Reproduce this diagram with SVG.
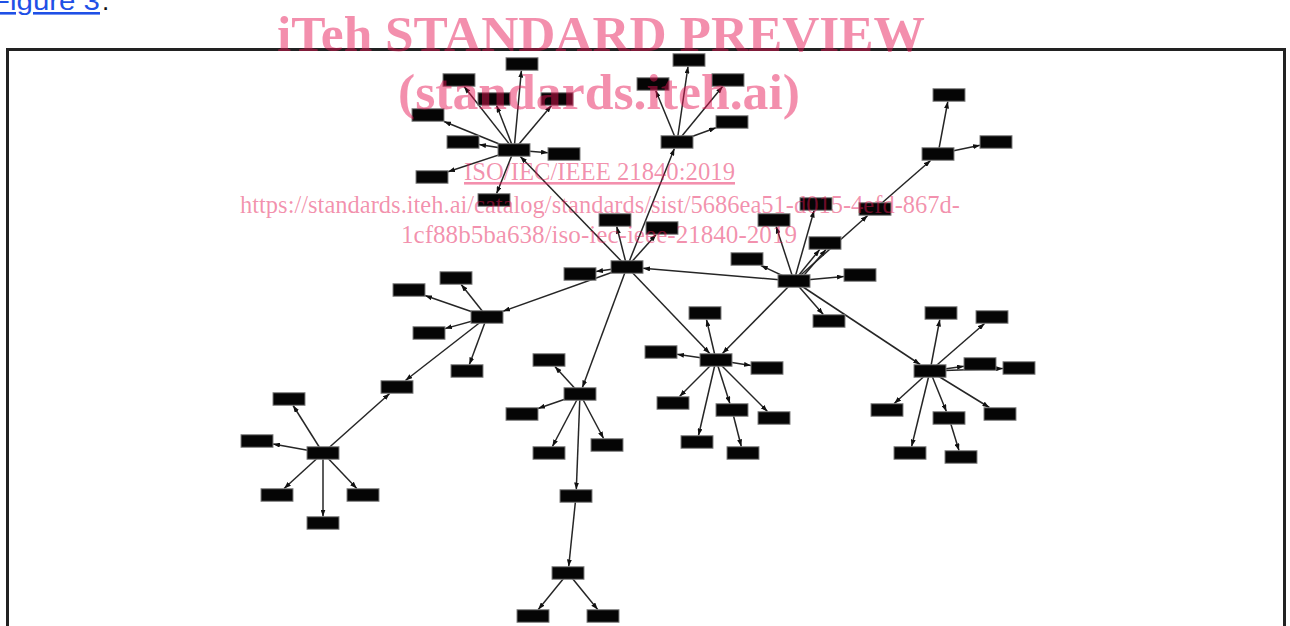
<svg xmlns="http://www.w3.org/2000/svg" width="1290" height="626" viewBox="0 0 1290 626">
  <style>
    .n { fill: #050505; stroke: #808080; stroke-width: 1; }
    .e line { stroke: #262626; stroke-width: 1.5; marker-end: url(#arr); }
    .wm { font-family: "Liberation Serif", "Times New Roman", serif; fill: #e51553; fill-opacity: 0.48; text-anchor: middle; }
    .wmb { font-weight: bold; font-size: 51px; }
    .wms { font-size: 26px; }
  </style>
  <defs>
    <marker id="arr" viewBox="0 0 7 5" refX="7" refY="2.5" markerWidth="7" markerHeight="5" orient="auto" markerUnits="userSpaceOnUse">
      <path d="M0,0 L7,2.5 L0,5 z" fill="#111"/>
    </marker>
    <rect id="box" x="-16" y="-6.25" width="32" height="12.5"/>
  </defs>

  <rect width="1290" height="626" fill="#ffffff"/>

  <!-- caption reference above the frame -->
  <text x="-8" y="10" font-family="'Liberation Sans', Arial, sans-serif" font-size="26" fill="#1f50e6" text-decoration="underline" textLength="108" lengthAdjust="spacingAndGlyphs">Figure 3</text>
  <text x="102" y="10" font-family="'Liberation Sans', Arial, sans-serif" font-size="26" fill="#111">.</text>

  <!-- frame -->
  <rect x="7.5" y="49.5" width="1277" height="600" fill="none" stroke="#222" stroke-width="3"/>

  <!-- connectors: start at source centre, end on the target border -->
  <g id="connectors" class="e">
    <!-- hub A -->
    <line x1="514" y1="150" x2="521.4" y2="70.5"/>
    <line x1="514" y1="150" x2="464.1" y2="86.5"/>
    <line x1="514" y1="150" x2="496.6" y2="105.5"/>
    <line x1="514" y1="150" x2="551.5" y2="105.5"/>
    <line x1="514" y1="150" x2="444" y2="121.5"/>
    <line x1="514" y1="150" x2="479" y2="144.5"/>
    <line x1="514" y1="150" x2="548" y2="152.7"/>
    <line x1="514" y1="150" x2="448" y2="171.7"/>
    <line x1="514" y1="150" x2="496.6" y2="193.5"/>
    <line x1="627" y1="267" x2="520.3" y2="156.5"/>
    <!-- hub B -->
    <line x1="677" y1="142" x2="688" y2="66.5"/>
    <line x1="677" y1="142" x2="655.7" y2="90.5"/>
    <line x1="677" y1="142" x2="722.6" y2="86.5"/>
    <line x1="677" y1="142" x2="716" y2="127.8"/>
    <line x1="627" y1="267" x2="674.4" y2="148.5"/>
    <!-- hub C -->
    <line x1="627" y1="267" x2="616.7" y2="226.5"/>
    <line x1="627" y1="267" x2="656.2" y2="234.5"/>
    <line x1="627" y1="267" x2="596" y2="271.6"/>
    <line x1="627" y1="267" x2="503" y2="311.3"/>
    <line x1="627" y1="267" x2="582.4" y2="387.5"/>
    <line x1="627" y1="267" x2="709.8" y2="353.5"/>
    <line x1="794" y1="281" x2="643" y2="268.3"/>
    <!-- hub D -->
    <line x1="487" y1="317" x2="461.2" y2="284.5"/>
    <line x1="487" y1="317" x2="425" y2="295.5"/>
    <line x1="487" y1="317" x2="445" y2="328.6"/>
    <line x1="487" y1="317" x2="469.4" y2="364.5"/>
    <line x1="487" y1="317" x2="405.4" y2="380.5"/>
    <line x1="323" y1="453" x2="389.7" y2="393.5"/>
    <!-- hub E -->
    <line x1="323" y1="453" x2="293.1" y2="405.5"/>
    <line x1="323" y1="453" x2="273" y2="443.9"/>
    <line x1="323" y1="453" x2="284.1" y2="488.5"/>
    <line x1="323" y1="453" x2="356.8" y2="488.5"/>
    <line x1="323" y1="453" x2="323" y2="516.5"/>
    <!-- hub F and the chain below it -->
    <line x1="580" y1="394" x2="554.9" y2="366.5"/>
    <line x1="580" y1="394" x2="538" y2="408.5"/>
    <line x1="580" y1="394" x2="552.4" y2="446.5"/>
    <line x1="580" y1="394" x2="603.6" y2="438.5"/>
    <line x1="580" y1="394" x2="576.3" y2="489.5"/>
    <line x1="576" y1="496" x2="568.7" y2="566.5"/>
    <line x1="568" y1="573" x2="538.3" y2="609.5"/>
    <line x1="568" y1="573" x2="597.7" y2="609.5"/>
    <!-- hub I -->
    <line x1="716" y1="360" x2="706.5" y2="319.5"/>
    <line x1="716" y1="360" x2="677" y2="354.3"/>
    <line x1="716" y1="360" x2="751" y2="365.5"/>
    <line x1="716" y1="360" x2="679.5" y2="396.5"/>
    <line x1="716" y1="360" x2="729.9" y2="403.5"/>
    <line x1="732" y1="410" x2="741.3" y2="446.5"/>
    <line x1="716" y1="360" x2="767.5" y2="411.5"/>
    <line x1="716" y1="360" x2="698.5" y2="435.5"/>
    <line x1="794" y1="281" x2="722.4" y2="353.5"/>
    <!-- hub J -->
    <line x1="794" y1="281" x2="776.1" y2="226.5"/>
    <line x1="794" y1="281" x2="814.1" y2="210.5"/>
    <line x1="794" y1="281" x2="819.7" y2="249.5"/>
    <line x1="799" y1="281" x2="826" y2="249.5"/>
    <line x1="794" y1="281" x2="867.7" y2="215.5"/>
    <line x1="875" y1="209" x2="930.6" y2="160.5"/>
    <line x1="794" y1="281" x2="760.9" y2="265.5"/>
    <line x1="794" y1="281" x2="844" y2="276.5"/>
    <line x1="794" y1="281" x2="823.3" y2="314.5"/>
    <line x1="794" y1="281" x2="920.2" y2="364.5"/>
    <!-- hub L -->
    <line x1="938" y1="154" x2="947.8" y2="101.5"/>
    <line x1="938" y1="154" x2="980" y2="145.3"/>
    <!-- hub K -->
    <line x1="930" y1="371" x2="939.8" y2="319.5"/>
    <line x1="930" y1="371" x2="984.6" y2="323.5"/>
    <line x1="930" y1="371" x2="964" y2="366.2"/>
    <line x1="930" y1="371" x2="1003" y2="368.5"/>
    <line x1="930" y1="371" x2="894.2" y2="403.5"/>
    <line x1="930" y1="371" x2="946.4" y2="411.5"/>
    <line x1="949" y1="418" x2="959" y2="450.5"/>
    <line x1="930" y1="371" x2="989.4" y2="407.5"/>
    <line x1="930" y1="371" x2="911.6" y2="446.5"/>
  </g>

  <!-- nodes -->
  <g id="hubA"><use href="#box" class="n" x="514" y="150"/></g>
  <g id="a1"><use href="#box" class="n" x="522" y="64"/></g>
  <g id="a2"><use href="#box" class="n" x="459" y="80"/></g>
  <g id="a3"><use href="#box" class="n" x="494" y="99"/></g>
  <g id="a4"><use href="#box" class="n" x="557" y="99"/></g>
  <g id="a5"><use href="#box" class="n" x="428" y="115"/></g>
  <g id="a6"><use href="#box" class="n" x="463" y="142"/></g>
  <g id="a7"><use href="#box" class="n" x="564" y="154"/></g>
  <g id="a8"><use href="#box" class="n" x="432" y="177"/></g>
  <g id="a9"><use href="#box" class="n" x="494" y="200"/></g>

  <g id="hubB"><use href="#box" class="n" x="677" y="142"/></g>
  <g id="b1"><use href="#box" class="n" x="689" y="60"/></g>
  <g id="b2"><use href="#box" class="n" x="653" y="84"/></g>
  <g id="b3"><use href="#box" class="n" x="728" y="80"/></g>
  <g id="b4"><use href="#box" class="n" x="732" y="122"/></g>

  <g id="hubC"><use href="#box" class="n" x="627" y="267"/></g>
  <g id="c1"><use href="#box" class="n" x="615" y="220"/></g>
  <g id="c2"><use href="#box" class="n" x="662" y="228"/></g>
  <g id="c3"><use href="#box" class="n" x="580" y="274"/></g>

  <g id="hubD"><use href="#box" class="n" x="487" y="317"/></g>
  <g id="d1"><use href="#box" class="n" x="456" y="278"/></g>
  <g id="d2"><use href="#box" class="n" x="409" y="290"/></g>
  <g id="d3"><use href="#box" class="n" x="429" y="333"/></g>
  <g id="d4"><use href="#box" class="n" x="467" y="371"/></g>
  <g id="link-DE"><use href="#box" class="n" x="397" y="387"/></g>

  <g id="hubE"><use href="#box" class="n" x="323" y="453"/></g>
  <g id="e1"><use href="#box" class="n" x="289" y="399"/></g>
  <g id="e2"><use href="#box" class="n" x="257" y="441"/></g>
  <g id="e3"><use href="#box" class="n" x="277" y="495"/></g>
  <g id="e4"><use href="#box" class="n" x="363" y="495"/></g>
  <g id="e5"><use href="#box" class="n" x="323" y="523"/></g>

  <g id="hubF"><use href="#box" class="n" x="580" y="394"/></g>
  <g id="f1"><use href="#box" class="n" x="549" y="360"/></g>
  <g id="f2"><use href="#box" class="n" x="522" y="414"/></g>
  <g id="f3"><use href="#box" class="n" x="549" y="453"/></g>
  <g id="f4"><use href="#box" class="n" x="607" y="445"/></g>
  <g id="g1"><use href="#box" class="n" x="576" y="496"/></g>
  <g id="hubH"><use href="#box" class="n" x="568" y="573"/></g>
  <g id="h1"><use href="#box" class="n" x="533" y="616"/></g>
  <g id="h2"><use href="#box" class="n" x="603" y="616"/></g>

  <g id="hubI"><use href="#box" class="n" x="716" y="360"/></g>
  <g id="i1"><use href="#box" class="n" x="705" y="313"/></g>
  <g id="i2"><use href="#box" class="n" x="661" y="352"/></g>
  <g id="i3"><use href="#box" class="n" x="767" y="368"/></g>
  <g id="i4"><use href="#box" class="n" x="673" y="403"/></g>
  <g id="i5"><use href="#box" class="n" x="732" y="410"/></g>
  <g id="i6"><use href="#box" class="n" x="774" y="418"/></g>
  <g id="i7"><use href="#box" class="n" x="697" y="442"/></g>
  <g id="i8"><use href="#box" class="n" x="743" y="453"/></g>

  <g id="hubJ"><use href="#box" class="n" x="794" y="281"/></g>
  <g id="j1"><use href="#box" class="n" x="774" y="220"/></g>
  <g id="j2"><use href="#box" class="n" x="816" y="204"/></g>
  <g id="j3"><use href="#box" class="n" x="825" y="243"/></g>
  <g id="j4"><use href="#box" class="n" x="747" y="259"/></g>
  <g id="j5"><use href="#box" class="n" x="860" y="275"/></g>
  <g id="j6"><use href="#box" class="n" x="829" y="321"/></g>
  <g id="link-JL"><use href="#box" class="n" x="875" y="209"/></g>

  <g id="hubL"><use href="#box" class="n" x="938" y="154"/></g>
  <g id="l1"><use href="#box" class="n" x="949" y="95"/></g>
  <g id="l2"><use href="#box" class="n" x="996" y="142"/></g>

  <g id="hubK"><use href="#box" class="n" x="930" y="371"/></g>
  <g id="k1"><use href="#box" class="n" x="941" y="313"/></g>
  <g id="k2"><use href="#box" class="n" x="992" y="317"/></g>
  <g id="k3"><use href="#box" class="n" x="980" y="364"/></g>
  <g id="k4"><use href="#box" class="n" x="1019" y="368"/></g>
  <g id="k5"><use href="#box" class="n" x="887" y="410"/></g>
  <g id="k6"><use href="#box" class="n" x="949" y="418"/></g>
  <g id="k7"><use href="#box" class="n" x="1000" y="414"/></g>
  <g id="k8"><use href="#box" class="n" x="910" y="453"/></g>
  <g id="k9"><use href="#box" class="n" x="961" y="457"/></g>

  <!-- translucent overlay text -->
  <g id="watermark" class="wm">
    <text class="wmb" x="601" y="51" textLength="648" lengthAdjust="spacingAndGlyphs">iTeh STANDARD PREVIEW</text>
    <text class="wmb" x="599" y="109" textLength="402" lengthAdjust="spacingAndGlyphs">(standards.iteh.ai)</text>
    <text class="wms" x="599.5" y="180" textLength="271" lengthAdjust="spacingAndGlyphs" text-decoration="underline">ISO/IEC/IEEE 21840:2019</text>
    <text class="wms" x="600" y="213" textLength="720" lengthAdjust="spacingAndGlyphs">https://standards.iteh.ai/catalog/standards/sist/5686ea51-d015-4efd-867d-</text>
    <text class="wms" x="599" y="243" textLength="396" lengthAdjust="spacingAndGlyphs">1cf88b5ba638/iso-iec-ieee-21840-2019</text>
  </g>
</svg>
